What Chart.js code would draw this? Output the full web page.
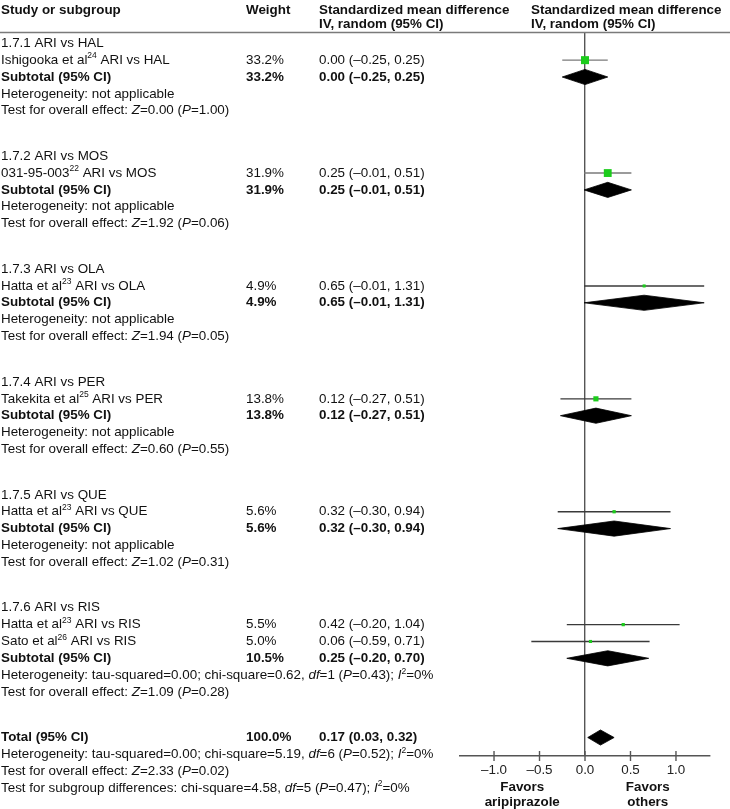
<!DOCTYPE html>
<html><head><meta charset="utf-8">
<script src="https://cdn.jsdelivr.net/npm/chart.js@4.4.0/dist/chart.umd.min.js"></script>
<style>html,body{margin:0;padding:0;background:#fff}#wrap{width:730px;height:809px;position:relative}</style>
</head><body><div id="wrap"><canvas id="c"></canvas></div>
<script>
// ---------- DATA ----------
const groupTitles = ['1.7.1 ARI vs HAL','1.7.2 ARI vs MOS','1.7.3 ARI vs OLA','1.7.4 ARI vs PER','1.7.5 ARI vs QUE','1.7.6 ARI vs RIS'];
const studyNames = ['Ishigooka et al^24^ ARI vs HAL','031-95-003^22^ ARI vs MOS','Hatta et al^23^ ARI vs OLA','Takekita et al^25^ ARI vs PER','Hatta et al^23^ ARI vs QUE','Hatta et al^23^ ARI vs RIS','Sato et al^26^ ARI vs RIS'];
const studyGroup = [0,1,2,3,4,5,5];
const studyWeight = [33.2,31.9,4.9,13.8,5.6,5.5,5.0];
const studySMD = [0.00,0.25,0.65,0.12,0.32,0.42,0.06];
const studyLo = [-0.25,-0.01,-0.01,-0.27,-0.30,-0.20,-0.59];
const studyHi = [0.25,0.51,1.31,0.51,0.94,1.04,0.71];
const subWeight = [33.2,31.9,4.9,13.8,5.6,10.5];
const subSMD = [0.00,0.25,0.65,0.12,0.32,0.25];
const subLo = [-0.25,-0.01,-0.01,-0.27,-0.30,-0.20];
const subHi = [0.25,0.51,1.31,0.51,0.94,0.70];
const subHet = ['Heterogeneity: not applicable','Heterogeneity: not applicable','Heterogeneity: not applicable','Heterogeneity: not applicable','Heterogeneity: not applicable','Heterogeneity: tau-squared=0.00; chi-square=0.62, _df_=1 (_P_=0.43); _I_^2^=0%'];
const subTest = ['Test for overall effect: _Z_=0.00 (_P_=1.00)','Test for overall effect: _Z_=1.92 (_P_=0.06)','Test for overall effect: _Z_=1.94 (_P_=0.05)','Test for overall effect: _Z_=0.60 (_P_=0.55)','Test for overall effect: _Z_=1.02 (_P_=0.31)','Test for overall effect: _Z_=1.09 (_P_=0.28)'];
const totalLabel = 'Total (95% CI)';
const totalWeight = 100.0;
const totalSMD = 0.17, totalLo = 0.03, totalHi = 0.32;
const totalNotes = ['Heterogeneity: tau-squared=0.00; chi-square=5.19, _df_=6 (_P_=0.52); _I_^2^=0%','Test for overall effect: _Z_=2.33 (_P_=0.02)','Test for subgroup differences: chi-square=4.58, _df_=5 (_P_=0.47); _I_^2^=0%'];
const headerCols = [['Study or subgroup'],['Weight'],['Standardized mean difference','IV, random (95% CI)'],['Standardized mean difference','IV, random (95% CI)']];
const xTickValues = [-1.0,-0.5,0.0,0.5,1.0];
const xTickLabels = ['\u20131.0','\u20130.5','0.0','0.5','1.0'];
const favorsLeft = ['Favors','aripiprazole'];
const favorsRight = ['Favors','others'];

// ---------- LAYOUT ----------
const ROW_PX = 16.85, FIRST_ROW_PX = 43.3, AREA_TOP = 33, AREA_BOTTOM = 756;
const GROUP_STEP = 6.7, TOTAL_ROW = 41.2;
const COL_X = [1, 246, 319, 531];
const X_MIN = -1.374, X_MAX = 1.374;
const FAVORS_AT = 0.69;
const DIAMOND_H = 0.45;
const FS = 13.4;
const FONT = '"Liberation Sans", Arial, sans-serif';

function fmt(v){ return (v<0?'\u2013':'') + Math.abs(v).toFixed(2); }
function ci(e,l,h){ return fmt(e)+' ('+fmt(l)+', '+fmt(h)+')'; }
function pct(w){ return w.toFixed(1)+'%'; }

const textRows = [];
const studyY = [], subY = [];
groupTitles.forEach((t,g)=>{
  const base = g*GROUP_STEP;
  textRows.push({y:base, cells:[t]});
  let k = 1;
  studyGroup.forEach((sg,i)=>{
    if(sg===g){ studyY[i]=base+k; textRows.push({y:base+k, cells:[studyNames[i], pct(studyWeight[i]), ci(studySMD[i],studyLo[i],studyHi[i])]}); k++; }
  });
  subY[g] = base+k;
  textRows.push({y:base+k, bold:true, cells:['Subtotal (95% CI)', pct(subWeight[g]), ci(subSMD[g],subLo[g],subHi[g])]}); k++;
  textRows.push({y:base+k, cells:[subHet[g]]}); k++;
  textRows.push({y:base+k, cells:[subTest[g]]});
});
textRows.push({y:TOTAL_ROW, bold:true, cells:[totalLabel, pct(totalWeight), ci(totalSMD,totalLo,totalHi)]});
totalNotes.forEach((n,i)=>textRows.push({y:TOTAL_ROW+1+i, cells:[n]}));

// ---------- DATASETS ----------
const datasets = [];
studySMD.forEach((e,i)=>{
  datasets.push({type:'line', data:[{x:studyLo[i],y:studyY[i]},{x:studyHi[i],y:studyY[i]}],
    borderColor: i<2 ? '#7a7a7a' : '#3a3a3a', borderWidth:1.4, pointRadius:0, fill:false, tension:0, order:3});
});
datasets.push({type:'scatter', data: studySMD.map((e,i)=>({x:e,y:studyY[i]})),
  pointStyle:'rect', backgroundColor:'#1ccc1c', borderWidth:0,
  pointRadius: ctx => 1.39*Math.sqrt(studyWeight[ctx.dataIndex]||0)/Math.SQRT2,
  order:2});
function diamond(e,l,h,y){
  return {type:'line', data:[{x:l,y:y},{x:e,y:y-DIAMOND_H},{x:h,y:y},{x:e,y:y+DIAMOND_H},{x:l,y:y}],
    borderColor:'#000', backgroundColor:'#000', borderWidth:0.8, pointRadius:0, fill:'shape', tension:0, order:1};
}
subSMD.forEach((e,g)=>datasets.push(diamond(e,subLo[g],subHi[g],subY[g])));
datasets.push(diamond(totalSMD,totalLo,totalHi,TOTAL_ROW));

// ---------- TEXT PLUGIN ----------
function drawRich(ctx, str, x, y, bold){
  const parts = str.split(/(_|\^)/);
  let italic=false, sup=false, cx=x;
  for(const p of parts){
    if(p==='_'){italic=!italic;continue;}
    if(p==='^'){sup=!sup;continue;}
    if(!p) continue;
    const size = sup?8.5:FS;
    ctx.font = (italic?'italic ':'')+(bold?'bold ':'')+size+'px '+FONT;
    ctx.fillText(p, cx, sup? y-4 : y);
    cx += ctx.measureText(p).width;
  }
}
const textPlugin = {
  id:'forestText',
  afterDraw(chart){
    const ctx = chart.ctx, ys = chart.scales.y, xs = chart.scales.x;
    ctx.save();
    ctx.fillStyle = '#111';
    ctx.textBaseline = 'middle';
    ctx.textAlign = 'left';
    // header
    headerCols.forEach((lines,c)=>{
      lines.forEach((ln,j)=>{
        ctx.font = 'bold '+FS+'px '+FONT;
        ctx.fillText(ln, COL_X[c], ys.getPixelForValue(-1.98 + j*0.86));
      });
    });
    // header rule
    ctx.strokeStyle = '#7a7a7a'; ctx.lineWidth = 1.5;
    ctx.beginPath(); ctx.moveTo(0, chart.chartArea.top-0.5); ctx.lineTo(chart.width, chart.chartArea.top-0.5); ctx.stroke();
    // rows
    textRows.forEach(r=>{
      const py = ys.getPixelForValue(r.y);
      r.cells.forEach((txt,c)=>drawRich(ctx, txt, COL_X[c], py, !!r.bold));
    });
    // tick marks across axis
    const ay = chart.chartArea.bottom;
    ctx.strokeStyle = '#555'; ctx.lineWidth = 1.4;
    xTickValues.forEach(v=>{
      const px = xs.getPixelForValue(v);
      ctx.beginPath(); ctx.moveTo(px, ay-5); ctx.lineTo(px, ay+5); ctx.stroke();
    });
    // favors labels
    ctx.textAlign = 'center';
    ctx.font = 'bold '+FS+'px '+FONT;
    [[favorsLeft,-FAVORS_AT],[favorsRight,FAVORS_AT]].forEach(([lines,v])=>{
      lines.forEach((ln,j)=>ctx.fillText(ln, xs.getPixelForValue(v), ay + 31 + j*15.5));
    });
    ctx.restore();
  }
};

new Chart(document.getElementById('c'), {
  type:'scatter',
  data:{datasets},
  options:{
    responsive:true, maintainAspectRatio:false, animation:false,
    layout:{padding:{left:460, right:730-710, top:AREA_TOP, bottom:0}},
    plugins:{legend:{display:false}, tooltip:{enabled:false}},
    scales:{
      x:{type:'linear', min:X_MIN, max:X_MAX,
        afterBuildTicks: s => { s.ticks = xTickValues.map(v=>({value:v})); },
        afterFit: s => { s.height = 809-AREA_BOTTOM; },
        ticks:{ padding:6, color:'#222', font:{family:FONT, size:FS},
          callback:(v)=>{ const i = xTickValues.indexOf(v); return i>=0? xTickLabels[i] : ''; } },
        grid:{ drawTicks:false, lineWidth:1.4,
          color: c => (c.tick && c.tick.value===0) ? '#555' : 'rgba(0,0,0,0)' },
        border:{display:true, color:'#555', width:1.4}
      },
      y:{type:'linear', display:false, reverse:true,
        min:(AREA_TOP-FIRST_ROW_PX)/ROW_PX, max:(AREA_BOTTOM-FIRST_ROW_PX)/ROW_PX,
        grid:{display:false}}
    }
  },
  plugins:[textPlugin]
});
</script></body></html>
